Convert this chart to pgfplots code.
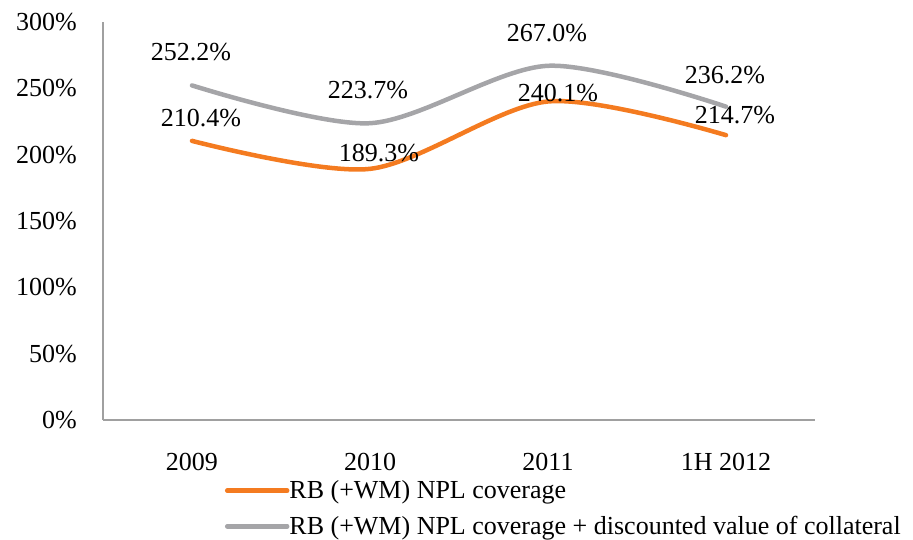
\documentclass[border=0pt]{standalone}
\usepackage{pgfplots}
\pgfplotsset{compat=1.18}
\usepackage{pgfplotstable}
\usepackage{fontspec}
\setmainfont{Liberation Serif}
\definecolor{cor}{HTML}{F47B20}
\definecolor{cgr}{HTML}{A5A5A8}
\definecolor{cax}{HTML}{A0A0A0}

\pgfplotstableread{
x y lab dx dy
0 210.4 210.4 9 23
1 189.3 189.3 9 16
2 240.1 240.1 10 8.5
3 214.7 214.7 9 20
}\orangedata

\pgfplotstableread{
x y lab dx dy
0 252.2 252.2 -1 33
1 223.7 223.7 -2 33
2 267.0 267.0 -1 33
3 236.2 236.2 -1 32
}\graydata

\begin{document}
\begin{tikzpicture}
\begin{axis}[
  name=ax, at={(0,0)}, anchor=south west,
  scale only axis, width=712pt, height=398pt,
  xmin=-0.5, xmax=3.5, ymin=0, ymax=300,
  axis x line*=bottom, axis y line*=left,
  axis line style={cax, line width=1.5pt, -},
  xtick={0,1,2,3}, xticklabels={2009,2010,2011,1H 2012},
  ytick={0,50,...,300},
  yticklabel={\pgfmathprintnumber{\tick}\%},
  /pgf/number format/assume math mode=true,
  major tick length=0pt, tick style={draw=none},
  ticklabel style={font=\fontsize{26}{31}\selectfont},
  yticklabel style={anchor=east, inner sep=0pt, xshift=-26pt},
  xticklabel style={anchor=center, inner sep=0pt, yshift=-42pt},
  clip=false,
  legend style={at={(0.1713,-0.153)}, anchor=north west, draw=none, fill=none,
    inner sep=0pt, outer sep=0pt, row sep=16pt,
    font=\fontsize{26}{31}\selectfont,
    nodes={inner sep=0pt},
    /tikz/every odd column/.style={column sep=0pt}},
  legend cell align=left,
  legend image code/.code={\draw[#1, line width=4.5pt] (0pt,0pt) -- (60pt,0pt);},
  nodes near coords={\pgfplotspointmeta\%},
  point meta=explicit symbolic,
  visualization depends on={\thisrow{dx} \as \dx},
  visualization depends on={\thisrow{dy} \as \dy},
  every node near coord/.append style={anchor=center, inner sep=0pt,
    xshift=\dx pt, yshift=\dy pt, font=\fontsize{26}{31}\selectfont, text=black},
]
\addplot[cor, line width=4.5pt, smooth, line cap=round] table[x=x, y=y, meta=lab] {\orangedata};
\addlegendentry{RB (+WM) NPL coverage}
\addplot[cgr, line width=4.5pt, smooth, line cap=round] table[x=x, y=y, meta=lab] {\graydata};
\addlegendentry{RB (+WM) NPL coverage + discounted value of collateral}
\end{axis}
\pgfresetboundingbox
\path[use as bounding box] (-103pt,-120pt) rectangle (810pt,420pt);
\end{tikzpicture}
\end{document}
